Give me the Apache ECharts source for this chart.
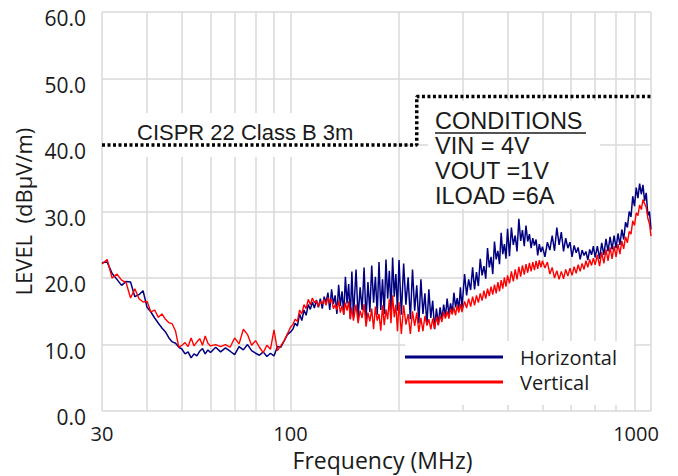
<!DOCTYPE html>
<html><head><meta charset="utf-8">
<script src="https://cdn.jsdelivr.net/npm/echarts@6/dist/echarts.min.js"></script>
<style>html,body{margin:0;padding:0;background:#fff}#c{width:678px;height:476px}</style>
</head><body><div id="c"></div>
<script>
const freqMHz = [
30,31,32,33,34,35,36,37,38,39,40,41,42,43,44,45,46,47,48,49,50,51,52,53,54,55,56,57,58,59,60,
62,64,66,68,70,72,74,76,78,80,82,84,86,88,90,92,94,96,98,100,
101.5,103,104.5,106,107.5,109,110.5,112,113.5,115,116.5,118,119.5,121,122.5,124,125.5,127,128.5,130,131.5,133,134.5,136,137.5,139,140.5,142,143.5,145,146.5,148,149.5,
152,154,156,158,160,162,164,166,168,170,172,174,176,178,180,182,184,186,188,190,192,194,196,198,200,
203,206,209,212,215,218,221,224,227,230,233,236,239,242,245,248,251,254,257,260,263,266,269,272,275,278,281,284,287,290,293,296,299,
304,308,312,316,320,324,328,332,336,340,344,348,352,356,360,364,368,372,376,380,384,388,392,396,400,
405,410,415,420,425,430,435,440,445,450,455,460,465,470,475,480,485,490,495,500,
508,516,524,532,540,548,556,564,572,580,588,596,604,612,620,628,636,644,652,660,668,676,684,692,700,
710,720,730,740,750,760,770,780,790,800,810,820,830,840,850,860,870,880,890,900,910,920,930,940,950,960,970,980,990,1000
];
const horizontal = [
22.3,22.4,20.7,19.8,18.9,19.5,19.4,17.2,17.5,18.1,15.6,14.9,14.0,13.2,12.5,11.9,11.0,10.4,10.2,9.6,9.3,8.6,8.9,8.0,8.6,8.3,9.0,9.4,8.6,9.2,8.8,
9.6,8.9,9.5,9.0,8.5,9.7,9.2,10.0,9.1,8.7,8.4,8.9,8.2,8.7,8.3,9.7,9.6,10.5,11.5,11.9,
12.3,13.2,12.8,14.6,13.6,15.2,14.4,16.0,15.3,16.4,15.5,16.7,15.6,16.9,15.4,17.2,16.3,17.8,15.2,18.3,16.1,17.4,14.6,19.0,15.8,18.0,14.5,20.2,16.2,19.1,13.9,21.0,14.2,
21.3,14.0,18.6,15.2,21.6,13.7,19.4,14.9,21.9,16.3,20.2,14.5,22.4,15.2,19.8,14.6,22.8,16.9,21.1,15.0,23.1,17.2,20.6,15.1,22.7,
14.5,22.2,16.0,20.1,13.8,21.3,15.1,18.9,13.2,19.8,14.6,17.7,12.9,18.3,14.0,16.6,12.3,15.4,13.0,15.6,13.8,16.0,14.2,16.9,14.5,16.2,14.7,17.8,15.6,17.0,15.2,18.6,15.5,
20.6,17.4,19.8,18.2,21.6,18.3,20.9,18.8,22.9,20.4,21.8,19.9,24.5,21.6,23.2,20.6,25.5,22.8,24.1,22.1,26.8,23.6,25.1,22.9,27.4,
23.3,27.6,25.0,26.4,24.0,28.9,25.6,27.2,24.8,27.9,25.5,26.6,24.5,26.0,24.9,25.8,23.4,25.1,23.9,24.7,
23.2,25.4,24.2,26.4,24.1,27.6,25.0,26.9,24.0,26.0,24.5,25.4,23.2,24.9,23.8,24.6,22.8,24.2,23.4,24.0,22.7,24.3,23.5,24.8,23.1,
24.8,22.9,25.3,23.5,25.9,24.0,26.2,24.3,26.4,24.5,26.7,25.0,27.3,25.8,28.4,27.6,30.0,29.2,32.3,30.8,33.6,32.0,34.2,32.6,34.0,31.6,32.8,29.4,30.0,27.3
];
const vertical = [
22.1,22.8,20.0,20.6,19.7,19.3,17.0,18.4,16.9,16.4,16.5,14.9,15.2,14.1,14.6,13.8,13.3,13.1,12.0,9.6,9.9,10.3,9.7,11.0,9.8,10.4,10.9,9.9,11.3,10.2,9.8,
10.0,9.7,10.0,9.6,11.0,10.1,12.3,11.5,9.9,10.6,9.6,8.8,9.9,9.3,12.2,9.1,9.8,10.6,11.6,12.6,
13.0,13.8,13.5,15.2,14.6,16.0,15.4,16.8,16.0,17.0,16.3,16.6,15.7,16.5,16.1,16.8,15.9,17.1,16.2,16.9,15.4,16.0,15.2,16.6,14.8,15.9,14.5,16.3,15.1,16.5,13.8,15.6,13.6,
16.0,13.2,15.1,14.0,16.1,12.7,14.8,13.5,15.4,12.3,15.7,13.6,14.6,12.1,15.9,12.9,15.3,13.8,16.8,13.2,17.4,14.1,16.0,12.0,16.4,
11.6,15.9,13.0,14.6,11.6,15.0,12.8,14.8,11.9,14.0,12.0,14.3,12.9,13.8,12.3,13.9,12.4,14.2,12.9,14.4,13.4,14.9,13.9,15.0,13.9,15.4,14.5,15.6,14.4,15.9,14.8,16.1,14.9,
16.5,15.5,16.9,15.7,17.2,15.9,17.4,16.3,17.7,16.6,18.1,16.9,18.4,17.3,18.7,17.5,19.0,17.7,19.4,18.0,19.7,18.4,20.1,18.7,20.4,
19.2,21.0,19.5,21.3,19.8,21.7,20.2,21.9,20.5,22.1,20.8,22.3,21.0,22.4,21.2,22.6,21.4,22.7,21.6,22.6,
21.5,22.4,20.6,21.6,20.0,21.1,19.8,21.0,19.9,21.3,20.3,21.5,20.4,21.7,20.7,22.0,21.0,22.2,21.3,22.6,21.6,22.8,21.9,23.0,22.0,
23.5,21.8,23.9,22.2,24.3,22.6,24.6,22.9,24.8,23.2,25.1,23.6,25.6,24.4,26.2,25.3,27.0,26.6,28.6,27.9,29.8,29.4,31.0,30.3,31.8,31.2,30.6,29.0,28.2,26.3
];
const limitFreqMHz = [30, 224, 224, 1000];
const limitLevel = [40, 40, 47.3, 47.3];
const gridFreqMHz = [30,40,50,60,70,80,90,100,200,300,400,500,600,700,800,900,1000];
const xTickLabels = [30, 100, 1000];
const limitText = 'CISPR 22 Class B 3m';
const conditionsTitle = 'CONDITIONS';
const conditionsLines = ['VIN = 4V', 'VOUT =1V', 'ILOAD =6A'];

const chart = echarts.init(document.getElementById('c'), null, {renderer: 'svg'});
const gridColor = '#d9d9d9';
const txt = '#1a1a1a';
const annFont = '"Liberation Sans", Arial, sans-serif';
const axFont = '"Open Sans", sans-serif';

const condGraphics = [{
  type: 'text', z: 5, x: 435, y: 121, silent: true,
  style: {text: conditionsTitle, fontSize: 23.5, fontFamily: annFont, fill: txt, verticalAlign: 'middle'}
}, {
  type: 'line', z: 5, silent: true,
  shape: {x1: 435, y1: 133, x2: 586, y2: 133}, style: {stroke: txt, lineWidth: 1.5}
}];
conditionsLines.forEach((t, i) => condGraphics.push({
  type: 'text', z: 5, x: 435, y: 146 + i * 25, silent: true,
  style: {text: t, fontSize: 23.5, fontFamily: annFont, fill: txt, verticalAlign: 'middle'}
}));

chart.setOption({
  animation: false,
  backgroundColor: '#fff',
  grid: {left: 102, right: 27, top: 12, bottom: 61, containLabel: false},
  xAxis: {
    type: 'log', logBase: 10, min: 30, max: 1000,
    name: 'Frequency (MHz)', nameLocation: 'middle', nameGap: 36,
    nameTextStyle: {fontSize: 23, fontFamily: axFont, color: txt, padding: [0, 0, 0, 12]},
    axisLine: {show: false}, axisTick: {show: false}, splitLine: {show: false},
    axisLabel: {
      fontSize: 20, fontFamily: axFont, color: txt, margin: 12,
      showMinLabel: true, showMaxLabel: true,
      formatter: v => {
        const r = Math.round(v);
        if (xTickLabels.indexOf(r) < 0) return '';
        return r === 1000 ? '{s|1000}' : String(r);
      },
      rich: {s: {fontSize: 20, fontFamily: axFont, color: txt, padding: [0, 30, 0, 0]}}
    }
  },
  yAxis: {
    type: 'value', min: 0, max: 60, interval: 10,
    name: 'LEVEL  (dBµV/m)', nameLocation: 'middle', nameGap: 68,
    nameTextStyle: {fontSize: 22, fontFamily: axFont, color: txt},
    axisLine: {show: false}, axisTick: {show: false},
    splitLine: {show: true, lineStyle: {color: gridColor, width: 1.5}},
    axisLabel: {fontSize: 21, fontFamily: axFont, color: txt, margin: 16,
      formatter: v => v.toFixed(1), verticalAlign: 'top', lineHeight: 12}
  },
  legend: {
    data: ['Horizontal', 'Vertical'], orient: 'vertical', left: 405, top: 347,
    icon: 'rect', itemWidth: 98, itemHeight: 3, itemGap: 5, padding: 0,
    selectedMode: false,
    textStyle: {fontSize: 20, fontFamily: axFont, color: txt, padding: [0, 0, 0, 12]}
  },
  graphic: [
    {type: 'rect', z: 1, silent: true, shape: {x: 104, y: 113, width: 290, height: 44}, style: {fill: '#fff'}},
    {type: 'rect', z: 1, silent: true, shape: {x: 428, y: 101, width: 172, height: 108}, style: {fill: '#fff'}},
    {type: 'rect', z: 1, silent: true, shape: {x: 405, y: 341, width: 229, height: 64}, style: {fill: '#fff'}},
    {type: 'text', z: 5, x: 137, y: 132, silent: true,
      style: {text: limitText, fontSize: 22, fontFamily: annFont, fill: txt, verticalAlign: 'middle'}}
  ].concat(condGraphics),
  series: [
    {
      name: 'Horizontal', type: 'line', z: 2, showSymbol: false, symbol: 'none',
      sampling: null, emphasis: {disabled: true},
      color: '#000080',
      lineStyle: {color: '#000080', width: 1.5},
      data: freqMHz.map((f, i) => [f, horizontal[i]]),
      markLine: {
        z: 0, silent: true, symbol: ['none', 'none'], label: {show: false},
        animation: false, emphasis: {disabled: true},
        lineStyle: {color: gridColor, width: 1.5, type: 'solid'},
        data: gridFreqMHz.map(f => ({xAxis: f}))
      }
    },
    {
      name: 'Vertical', type: 'line', z: 2, showSymbol: false, symbol: 'none',
      sampling: null, emphasis: {disabled: true},
      color: '#ff0000',
      lineStyle: {color: '#ff0000', width: 1.4},
      data: freqMHz.map((f, i) => [f, vertical[i]])
    },
    {
      name: 'CISPR 22 Class B 3m', type: 'line', z: 3, showSymbol: false, symbol: 'none',
      emphasis: {disabled: true}, silent: true,
      lineStyle: {color: '#000', width: 3.5, type: [3, 2.5]},
      data: limitFreqMHz.map((f, i) => [f, limitLevel[i]])
    }
  ]
});
</script></body></html>
